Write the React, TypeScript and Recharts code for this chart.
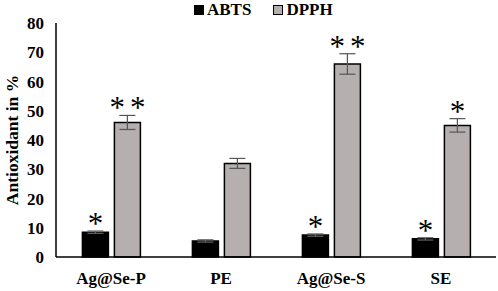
import React from "react";
import {
  BarChart,
  Bar,
  XAxis,
  YAxis,
  ErrorBar,
  LabelList,
} from "recharts";

const samples = ["Ag@Se-P", "PE", "Ag@Se-S", "SE"];
const abts = [8.5, 5.5, 7.5, 6.2];
const abtsErr = [0.4, 0.4, 0.4, 0.4];
const dpph = [46, 32, 66, 45];
const dpphErr = [2.4, 1.7, 3.5, 2.3];
const abtsMarks = ["*", "", "*", "*"];
const dpphMarks = ["**", "", "**", "*"];
const yTicks = [0, 10, 20, 30, 40, 50, 60, 70, 80];

const series = [
  { name: "ABTS", fill: "#000000" },
  { name: "DPPH", fill: "#b5afaf" },
];

const data = samples.map((s, i) => ({
  name: s,
  ABTS: abts[i],
  abtsErr: abtsErr[i],
  abtsMark: abtsMarks[i],
  DPPH: dpph[i],
  dpphErr: dpphErr[i],
  dpphMark: dpphMarks[i],
}));

const FONT = "'Liberation Serif', 'Times New Roman', serif";

// star label sits just above the top of the error bar
const starLabel = (errs: number[], vals: number[]) => (props: any) => {
  const { x, y, width, height, value, index } = props;
  if (!value) return null;
  const errPx = (errs[index] * height) / vals[index];
  return (
    <text
      x={x + width / 2 + (value.length > 1 ? 2.5 : 0)}
      y={y - errPx + 3}
      textAnchor="middle"
      fontFamily={FONT}
      fontSize={31}
      letterSpacing={value.length > 1 ? 5 : 0}
      fill="#000"
    >
      {value}
    </text>
  );
};

const App = () => {
  return (
    <div style={{ position: "absolute", left: 0, top: 0, width: 498, height: 291, background: "#fff" }}>
      <BarChart
        width={498}
        height={291}
        data={data}
        margin={{ top: 23, right: 2, bottom: 4, left: 0 }}
        barCategoryGap="24%"
        barGap={6}
      >
        <XAxis
          dataKey="name"
          tickLine={false}
          axisLine={{ stroke: "#000", strokeWidth: 1.5 }}
          height={30}
          tick={{ fontFamily: FONT, fontSize: 17, fontWeight: "bold", fill: "#000" }}
          tickMargin={9}
        />
        <YAxis
          domain={[0, 80]}
          ticks={yTicks}
          width={56}
          tickLine={false}
          axisLine={{ stroke: "#000", strokeWidth: 1.5 }}
          tick={{ fontFamily: FONT, fontSize: 17, fontWeight: "bold", fill: "#000" }}
          tickMargin={6}
          label={{
            value: "Antioxidant in %",
            angle: -90,
            position: "insideLeft",
            offset: 12,
            style: { fontFamily: FONT, fontSize: 17.5, fontWeight: "bold", fill: "#000", textAnchor: "middle" },
          }}
        />
        <Bar dataKey="ABTS" fill={series[0].fill} stroke="#000" strokeWidth={1.5} isAnimationActive={false}>
          <ErrorBar dataKey="abtsErr" width={8} stroke="#666" strokeWidth={1.2} />
          <LabelList dataKey="abtsMark" content={starLabel(abtsErr, abts)} />
        </Bar>
        <Bar dataKey="DPPH" fill={series[1].fill} stroke="#000" strokeWidth={1.5} isAnimationActive={false}>
          <ErrorBar dataKey="dpphErr" width={8} stroke="#555" strokeWidth={1.2} />
          <LabelList dataKey="dpphMark" content={starLabel(dpphErr, dpph)} />
        </Bar>
      </BarChart>
      <div
        style={{
          position: "absolute",
          top: 1,
          left: 194,
          display: "flex",
          alignItems: "center",
          fontFamily: FONT,
          fontSize: 17,
          fontWeight: "bold",
          lineHeight: "18px",
        }}
      >
        {series.map((s, i) => (
          <span key={s.name} style={{ display: "flex", alignItems: "center", marginRight: i === 0 ? 22 : 0 }}>
            <span
              style={{
                display: "inline-block",
                width: 8,
                height: 8,
                background: s.fill,
                border: "1px solid #000",
                marginRight: 3,
              }}
            />
            {s.name}
          </span>
        ))}
      </div>
    </div>
  );
};

export default App;
